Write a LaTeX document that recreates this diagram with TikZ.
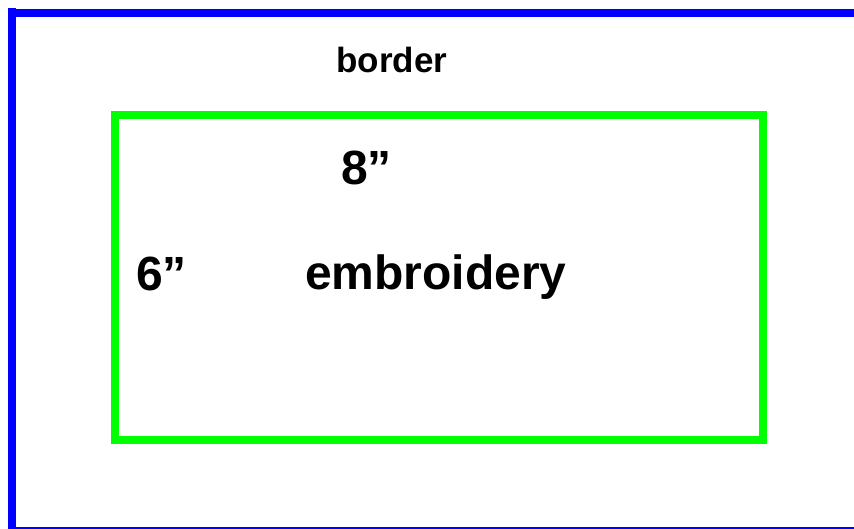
\documentclass[tikz,border=0pt]{standalone}
\usepackage{fontspec}
\setmainfont{Liberation Sans}
\definecolor{frameblue}{RGB}{0,0,255}
\definecolor{hoopgreen}{RGB}{0,255,0}
\tikzset{
  label/.style={anchor=base west, inner sep=0pt, font=\bfseries\fontsize{48}{48}\selectfont},
  smalllabel/.style={anchor=base, inner sep=0pt, font=\bfseries\fontsize{35}{35}\selectfont},
}
\begin{document}
\begin{tikzpicture}[x=1pt,y=-1pt]
  \useasboundingbox (0,0) rectangle (854,529);
  \fill[white] (0,0) rectangle (854,529);
  % outer border (blue)
  \fill[frameblue] (8,8) rectangle (16,529);
  \fill[frameblue] (8,9) rectangle (854,17);
  \fill[frameblue] (8,527) rectangle (854,529);
  % embroidery area (green)
  \draw[hoopgreen, line width=8pt] (115,115) rectangle (763,440);
  % labels
  \node[smalllabel] (border) at (392,73) {border};
  \node[label] (width) at (341,185) {8”};
  \node[label] (height) at (136,291) {6”};
  \node[label] (embroidery) at (305,290) {embroidery};
\end{tikzpicture}
\end{document}
